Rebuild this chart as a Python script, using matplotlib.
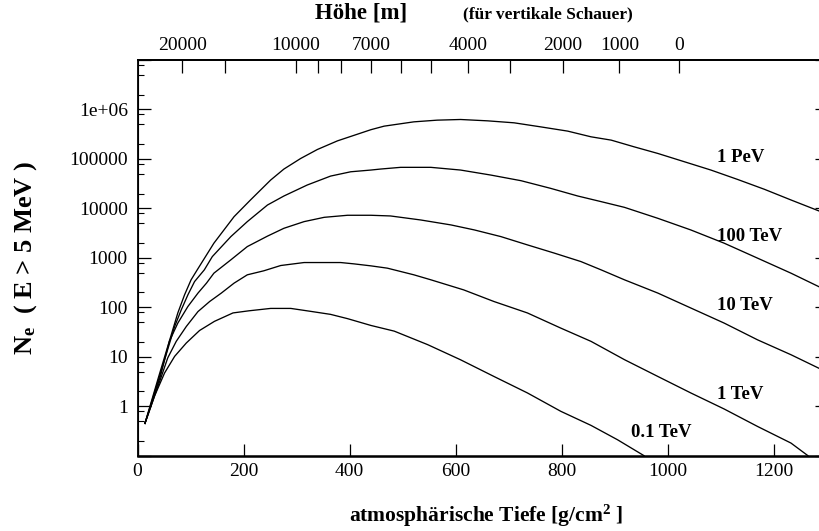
import matplotlib
matplotlib.use("Agg")
import matplotlib.pyplot as plt
from matplotlib.ticker import FixedLocator, LogLocator, NullFormatter

plt.rcParams['font.family'] = ['Liberation Serif', 'DejaVu Serif']
plt.rcParams['mathtext.fontset'] = 'custom'
plt.rcParams['mathtext.rm'] = 'Liberation Serif:bold'
plt.rcParams['mathtext.bf'] = 'Liberation Serif:bold'
plt.rcParams['mathtext.it'] = 'Liberation Serif:bold'

# atmospheric depth [g/cm^2] and electron number
depth_01tev = [14, 32, 51, 70, 92, 117, 145, 180, 210, 251, 289, 326, 364, 396, 440, 484, 547,
               609, 672, 735, 798, 855, 905, 955]
ne_01tev = [0.45, 1.6, 4.7, 10.2, 19, 34, 52, 77, 85, 95, 95, 83, 72, 59, 43, 33, 17.6,
            8.7, 4.0, 1.86, 0.79, 0.41, 0.21, 0.1]

depth_1tev = [14, 45, 57, 73, 92, 114, 136, 158, 182, 207, 238, 270, 314, 352, 383, 408, 440,
              471, 521, 553, 615, 672, 735, 798, 855, 918, 981, 1043, 1106, 1169, 1232, 1264]
ne_1tev = [0.45, 4.0, 9.5, 20.5, 41, 82, 131, 194, 308, 454, 547, 700, 804, 804, 804, 756, 689,
           619, 454, 360, 225, 131, 77, 38, 20.5, 8.75, 4.0, 1.86, 0.88, 0.39, 0.18, 0.1]

depth_10tev = [14, 43, 60, 76, 95, 114, 130, 144, 176, 207, 245, 276, 314, 352, 396, 440, 477,
               534, 591, 635, 685, 735, 786, 836, 874, 918, 981, 1043, 1106, 1169, 1232, 1290]
ne_10tev = [0.45, 4.0, 20.5, 48, 104, 194, 308, 490, 912, 1690, 2750, 3960, 5400, 6600, 7260,
            7260, 7030, 5830, 4630, 3670, 2690, 1830, 1245, 841, 572, 360, 194, 97, 48, 22, 11, 5.5]

depth_100tev = [14, 41.5, 70, 82.5, 95, 107.5, 126, 141, 176, 207, 245, 276, 320, 364, 402, 440,
                458, 496, 553, 609, 666, 723, 779, 830, 874, 918, 981, 1043, 1106, 1169, 1232, 1290]
ne_100tev = [0.45, 4.0, 41, 89, 179, 331, 573, 1060, 2690, 5400, 11700, 17800, 29700, 45000,
             55000, 59600, 62400, 67600, 67600, 59600, 47200, 36300, 25400, 17800, 13700, 10500,
             6300, 3670, 1980, 986, 490, 245]

depth_1pev = [14, 40, 76, 88.7, 101, 112.6, 144, 182, 213, 251, 276, 307.5, 339, 377, 414.5, 440,
              465, 521, 565, 609, 660, 710, 760, 811, 855, 893, 936, 981, 1031, 1081, 1131, 1182,
              1232, 1288]
ne_1pev = [0.45, 4.0, 77, 179, 360, 573, 1980, 6800, 14800, 37400, 62400, 102000, 155000, 232000,
           316000, 390000, 460000, 562000, 608000, 627000, 589000, 537000, 445000, 365000, 280000,
           240000, 176000, 129000, 87700, 59600, 38600, 24300, 14800, 8600]

curve_labels = ["0.1 TeV", "1 TeV", "10 TeV", "100 TeV", "1 PeV"]

# top axis: height [m] for vertical showers and the matching depth
height_m = [20000, 15000, 10000, 9000, 8000, 7000, 6000, 5000, 4000, 3000, 2000, 1000, 0]
height_depth = [84.7, 164, 298.8, 340.3, 383.1, 440.6, 497.2, 553.5, 623.1, 702.3, 801.5, 908.6, 1021.5]
height_shown = [20000, 10000, 7000, 4000, 2000, 1000, 0]

fig = plt.figure(figsize=(8.2, 5.31), dpi=100)
ax = fig.add_axes([0.1677, 0.1418, 0.8409, 0.7452])

curves = [(depth_01tev, ne_01tev), (depth_1tev, ne_1tev), (depth_10tev, ne_10tev),
          (depth_100tev, ne_100tev), (depth_1pev, ne_1pev)]
for d, n in curves:
    ax.plot(d, n, color="black", lw=0.95)

ax.set_yscale("log")
ax.set_xlim(0, 1300)
ax.set_ylim(0.1, 1e7)

ax.set_xticks([0, 200, 400, 600, 800, 1000, 1200])
ax.yaxis.set_major_locator(FixedLocator([0.1, 1, 10, 100, 1000, 1e4, 1e5, 1e6, 1e7]))
ax.set_yticklabels(["", "1", "10", "100", "1000", "10000", "100000", "1e+06", ""])
ax.yaxis.set_minor_locator(LogLocator(base=10, subs=[2, 5, 8], numticks=20))
ax.yaxis.set_minor_formatter(NullFormatter())

ax.tick_params(axis="x", which="major", direction="in", length=9, width=0.9, labelsize=14,
               pad=5, top=False)
ax.tick_params(axis="y", which="major", direction="in", length=9, width=0.9, labelsize=14,
               pad=7, right=True)
ax.tick_params(axis="y", which="minor", direction="in", length=4, width=0.8, right=False)

for side in ["left", "bottom", "top"]:
    ax.spines[side].set_linewidth(1.3)
ax.spines["bottom"].set_linewidth(1.8)
ax.spines["right"].set_visible(False)

ax2 = ax.twiny()
ax2.set_xlim(ax.get_xlim())
ax2.set_xticks(height_depth)
ax2.set_xticklabels([str(h) if h in height_shown else "" for h in height_m])
ax2.tick_params(axis="x", direction="in", length=9, width=0.9, labelsize=14, pad=4)
ax2.spines["top"].set_linewidth(1.3)
ax2.spines["right"].set_visible(False)

# curve labels
ax.text(1093, 1.07e5, curve_labels[4], fontsize=13.5, fontweight="bold", va="center")
ax.text(1093, 2700, curve_labels[3], fontsize=13.5, fontweight="bold", va="center")
ax.text(1093, 109, curve_labels[2], fontsize=13.5, fontweight="bold", va="center")
ax.text(1093, 1.72, curve_labels[1], fontsize=13.5, fontweight="bold", va="center")
ax.text(930, 0.29, curve_labels[0], fontsize=13.5, fontweight="bold", va="center")

ax.set_xlabel(r"atmosphärische Tiefe [g/cm$^2$ ]", fontsize=15.5, fontweight="bold")
ax.xaxis.set_label_coords(0.505, -0.118)
ax.set_ylabel(r"N$_\mathrm{e}$  ( E > 5 MeV )", fontsize=19, fontweight="bold")
ax.yaxis.set_label_coords(-0.143, 0.5)

fig.text(0.44, 0.975, "Höhe [m]", fontsize=16.5, fontweight="bold", ha="center", va="center")
fig.text(0.668, 0.973, "(für vertikale Schauer)", fontsize=12.5, fontweight="bold",
         ha="center", va="center")

fig.savefig("out.png", dpi=100)
